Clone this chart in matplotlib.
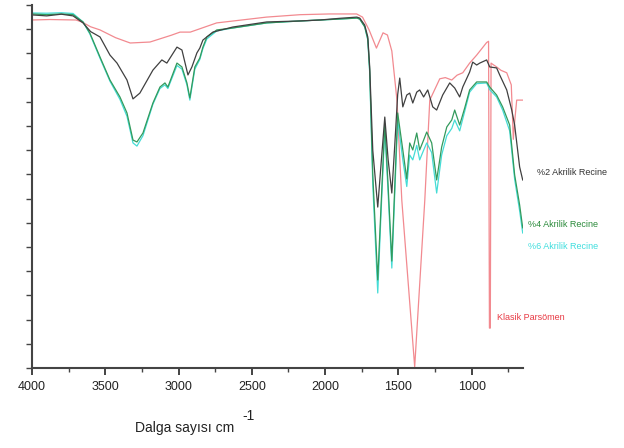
import numpy as np
import matplotlib
matplotlib.use("Agg")
import matplotlib.pyplot as plt
from matplotlib.ticker import MultipleLocator

plt.rcParams['font.family'] = ['Liberation Sans', 'DejaVu Sans']

# Klasik parsömen (kırmızı)
red_wn = [4000, 3880, 3700, 3660, 3600, 3536, 3430, 3330, 3195, 3050, 2990, 2920,
          2740, 2400, 2170, 1970, 1785, 1745, 1700, 1650, 1605, 1575, 1545, 1510,
          1477, 1389, 1320, 1286, 1218, 1180, 1136, 1100, 1061, 1014, 966, 898,
          885, 879, 873, 868, 857, 830, 800, 761, 730, 716, 705, 693, 673, 652]
red_t = [14.38, 14.40, 14.38, 14.30, 14.10, 13.97, 13.65, 13.43, 13.47, 13.75, 13.88, 13.88,
         14.26, 14.50, 14.60, 14.63, 14.63, 14.50, 13.97, 13.22, 13.85, 13.76, 13.10, 11.07,
         6.94, 0.05, 6.94, 11.07, 11.95, 12.00, 11.90, 12.10, 12.20, 12.60, 12.93, 13.45,
         13.50, 1.65, 1.65, 12.60, 12.55, 12.44, 12.30, 12.20, 11.70, 9.45, 10.30, 11.07, 11.07, 11.07]

# %2 Akrilik Recine (siyah)
bk_wn = [4000, 3900, 3800, 3720, 3652, 3600, 3536, 3468, 3420, 3352, 3311, 3264, 3175,
         3114, 3080, 3011, 2977, 2936, 2909, 2875, 2855, 2834, 2766, 2630, 2398, 2173,
         2036, 1900, 1784, 1764, 1730, 1709, 1696, 1675, 1641, 1620, 1593, 1570, 1545,
         1525, 1505, 1491, 1470, 1443, 1423, 1402, 1375, 1355, 1328, 1300, 1266, 1239,
         1198, 1150, 1116, 1082, 1061, 1014, 993, 966, 945, 898, 877, 830, 809, 761,
         727, 707, 673, 652]
bk_t = [14.59, 14.55, 14.62, 14.55, 14.26, 13.90, 13.68, 12.93, 12.60, 11.90, 11.12, 11.36, 12.31,
        12.73, 12.60, 13.26, 13.14, 12.11, 12.44, 13.02, 13.22, 13.55, 13.88, 14.09, 14.30, 14.34,
        14.38, 14.45, 14.50, 14.46, 14.17, 13.68, 12.44, 9.00, 6.65, 8.30, 10.37, 8.60, 7.23,
        9.20, 11.30, 11.98, 10.79, 11.28, 11.36, 10.95, 11.40, 11.49, 11.20, 11.49, 10.79, 10.66,
        11.28, 11.78, 11.57, 11.20, 11.61, 12.23, 12.64, 12.52, 12.60, 12.73, 12.44, 12.40, 12.11, 11.49,
        10.66, 10.04, 8.31, 7.77]

# %4 ve %6 Akrilik Recine (yeşil, turkuaz)
gc_wn = [4000, 3900, 3800, 3720, 3652, 3605, 3536, 3468, 3400, 3352, 3311, 3284, 3243,
         3175, 3127, 3093, 3073, 3011, 2977, 2943, 2923, 2889, 2855, 2834, 2807, 2739,
         2630, 2398, 2173, 2036, 1900, 1784, 1764, 1730, 1709, 1696, 1675, 1641, 1620,
         1593, 1570, 1545, 1525, 1505, 1470, 1443, 1423, 1402, 1375, 1355, 1328, 1307,
         1273, 1239, 1205, 1170, 1136, 1116, 1082, 1048, 1014, 966, 898, 877, 830, 789,
         741, 707, 673, 652]
gr_t = [14.63, 14.60, 14.63, 14.60, 14.30, 13.84, 12.85, 11.90, 11.20, 10.54, 9.42, 9.34, 9.71,
        10.95, 11.61, 11.78, 11.61, 12.60, 12.44, 11.78, 11.16, 12.44, 12.81, 13.26, 13.68, 13.97,
        14.05, 14.26, 14.34, 14.38, 14.42, 14.46, 14.42, 14.10, 13.60, 12.30, 8.00, 3.64, 6.50,
        10.10, 7.50, 4.42, 7.50, 10.54, 9.01, 7.81, 9.30, 9.01, 9.71, 9.01, 9.42, 9.75,
        9.30, 7.77, 9.13, 9.96, 10.25, 10.66, 10.04, 10.74, 11.49, 11.82, 11.82, 11.61, 11.28, 10.79,
        10.04, 7.98, 6.74, 5.79]
cy_t = [14.67, 14.66, 14.68, 14.65, 14.30, 13.80, 12.80, 11.85, 11.10, 10.40, 9.30, 9.17, 9.60,
        10.90, 11.55, 11.70, 11.55, 12.50, 12.35, 11.70, 11.07, 12.35, 12.75, 13.20, 13.60, 13.93,
        14.05, 14.26, 14.34, 14.38, 14.42, 14.46, 14.42, 14.10, 13.55, 12.20, 7.60, 3.10, 6.20,
        9.90, 7.20, 4.13, 7.20, 10.25, 8.60, 7.50, 8.80, 8.60, 9.20, 8.60, 9.00, 9.30,
        8.90, 7.23, 8.80, 9.60, 9.90, 10.25, 9.80, 10.60, 11.40, 11.75, 11.78, 11.50, 11.20, 10.66,
        9.80, 7.80, 6.50, 5.58]

fig = plt.figure(figsize=(6.24, 4.48), dpi=100)
ax = fig.add_axes([32/624, 80/448, 491/624, 363/448])

ax.plot(red_wn, red_t, color='#f28a90', lw=0.9)
ax.plot(gc_wn, cy_t, color='#45dcd6', lw=0.9)
ax.plot(gc_wn, gr_t, color='#339a5c', lw=0.9)
ax.plot(bk_wn, bk_t, color='#404040', lw=0.9)

ax.set_xlim(4000, 650)
ax.set_ylim(0, 15)

for s in ['top', 'right']:
    ax.spines[s].set_visible(False)
for s in ['left', 'bottom']:
    ax.spines[s].set_linewidth(1.5)
    ax.spines[s].set_color('#444444')

ax.xaxis.set_major_locator(MultipleLocator(500))
ax.xaxis.set_minor_locator(MultipleLocator(250))
ax.yaxis.set_major_locator(MultipleLocator(1))
ax.tick_params(axis='x', which='major', direction='out', length=5, width=1.2,
               labelsize=9, pad=4, colors='#222222')
ax.tick_params(axis='x', which='minor', direction='out', length=3, width=1.0, colors='#444444')
ax.tick_params(axis='y', which='major', direction='out', length=4, width=1.0,
               labelleft=False, colors='#444444')

# seri etiketleri
ax.text(557, 8.06, '%2 Akrilik Recine', fontsize=6.5, color='#333333', va='center', clip_on=False)
ax.text(618, 5.95, '%4 Akrilik Recine', fontsize=6.5, color='#2a8a3a', va='center', clip_on=False)
ax.text(618, 5.04, '%6 Akrilik Recine', fontsize=6.5, color='#40dede', va='center', clip_on=False)
ax.text(830, 2.07, 'Klasik Parsömen', fontsize=6.5, color='#e83a44', va='center', clip_on=False)

# eksen başlığı, üst simge ayrı yazıldı
fig.text(135/624, 1 - 428/448, 'Dalga sayısı cm', fontsize=10, ha='left', va='center',
         color='#222222')
fig.text(242/624, 1 - 416/448, '-1', fontsize=10, ha='left', va='center', color='#222222')

fig.savefig('out.png', dpi=100, facecolor='white')
